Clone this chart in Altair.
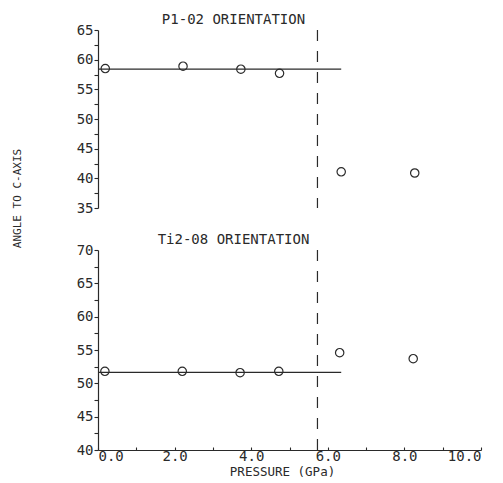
import altair as alt
import pandas as pd

# ---- data ----
top_pressure = [0.19, 2.22, 3.73, 4.74, 6.35, 8.27]
top_angle = [58.5, 58.9, 58.4, 57.7, 41.1, 40.9]
bot_pressure = [0.18, 2.20, 3.71, 4.72, 6.31, 8.23]
bot_angle = [51.8, 51.8, 51.6, 51.8, 54.6, 53.7]
fit_pressure = [0.0, 6.35]
top_fit_angle = [58.4, 58.4]
bot_fit_angle = [51.65, 51.65]
transition_pressure = [5.73]

top_ticks = [35, 37.5, 40, 42.5, 45, 47.5, 50, 52.5, 55, 57.5, 60, 62.5, 65]
bot_ticks = [40, 42.5, 45, 47.5, 50, 52.5, 55, 57.5, 60, 62.5, 65, 67.5, 70]
x_ticks = [0, 1, 2, 3, 4, 5, 6, 7, 8, 9, 10]

INK = "#2a2a2a"
FONT = "DejaVu Sans Mono"

df_top = pd.DataFrame({"p": top_pressure, "a": top_angle})
df_bot = pd.DataFrame({"p": bot_pressure, "a": bot_angle})
df_top_fit = pd.DataFrame({"p": fit_pressure, "a": top_fit_angle})
df_bot_fit = pd.DataFrame({"p": fit_pressure, "a": bot_fit_angle})
df_rule = pd.DataFrame({"p": transition_pressure})

xscale = alt.Scale(domain=[0, 10], nice=False, zero=False)

y_label_expr = "datum.value % 5 == 0 ? datum.label : ''"

top_yaxis = alt.Axis(
    values=top_ticks, labelExpr=y_label_expr, title="ANGLE TO C-AXIS",
    titleX=-81, titleY=168, titleAngle=270, titleAlign="center",
    titleBaseline="middle", titleFontSize=11, titleFont=FONT,
    titleFontWeight="normal", titleColor=INK, grid=False,
    tickSize=4, labelPadding=1,
)
bot_yaxis = alt.Axis(
    values=bot_ticks, labelExpr=y_label_expr, title=None, grid=False,
    tickSize=4, labelPadding=1,
)
bot_xaxis = alt.Axis(
    values=x_ticks,
    labelExpr="datum.value % 2 == 0 ? format(datum.value, '.1f') : ''",
    title="PRESSURE (GPa)", titleX=184, titleY=15, titleAlign="center",
    titleBaseline="top", titleFontSize=12.5, titleFont=FONT,
    titleFontWeight="normal", titleColor=INK, grid=False,
    tickSize=alt.ExprRef(expr="-3"), labelPadding=2,
)

def panel(df, df_fit, ydomain, yaxis, xaxis, title, height):
    yscale = alt.Scale(domain=ydomain, nice=False, zero=False)
    pts = alt.Chart(df).mark_point(
        shape="circle", filled=False, size=70, strokeWidth=1.2,
        color=INK, opacity=1,
    ).encode(
        x=alt.X("p:Q", scale=xscale, axis=xaxis),
        y=alt.Y("a:Q", scale=yscale, axis=yaxis),
    )
    fit = alt.Chart(df_fit).mark_line(color=INK, strokeWidth=1.1).encode(
        x=alt.X("p:Q", scale=xscale, axis=xaxis),
        y=alt.Y("a:Q", scale=yscale, axis=yaxis),
    )
    rule = alt.Chart(df_rule).mark_rule(
        color=INK, strokeWidth=1.2, strokeDash=[11, 10]
    ).encode(x=alt.X("p:Q", scale=xscale, axis=xaxis))
    return alt.layer(rule, fit, pts).properties(
        width=383, height=height,
        title=alt.TitleParams(
            text=title, anchor="middle", dx=-56, offset=-15,
            baseline="alphabetic", fontSize=14, font=FONT,
            fontWeight="normal", color=INK,
        ),
    )

top = panel(df_top, df_top_fit, [35, 65], top_yaxis, None,
            "P1-02 ORIENTATION", 178)
bottom = panel(df_bot, df_bot_fit, [40, 70], bot_yaxis, bot_xaxis,
               "Ti2-08 ORIENTATION", 200)

chart = alt.vconcat(
    top, bottom, spacing=42, bounds="flush",
    padding={"left": 3, "top": 5, "right": 5, "bottom": 0},
    background="white",
).configure_view(
    stroke=None
).configure_axis(
    domainColor=INK, tickColor=INK, labelColor=INK, labelFont=FONT,
    labelFontSize=14, domainWidth=1.2, tickWidth=1.1,
)

chart.save("out.html", embed_options={"renderer": "svg", "actions": False})
